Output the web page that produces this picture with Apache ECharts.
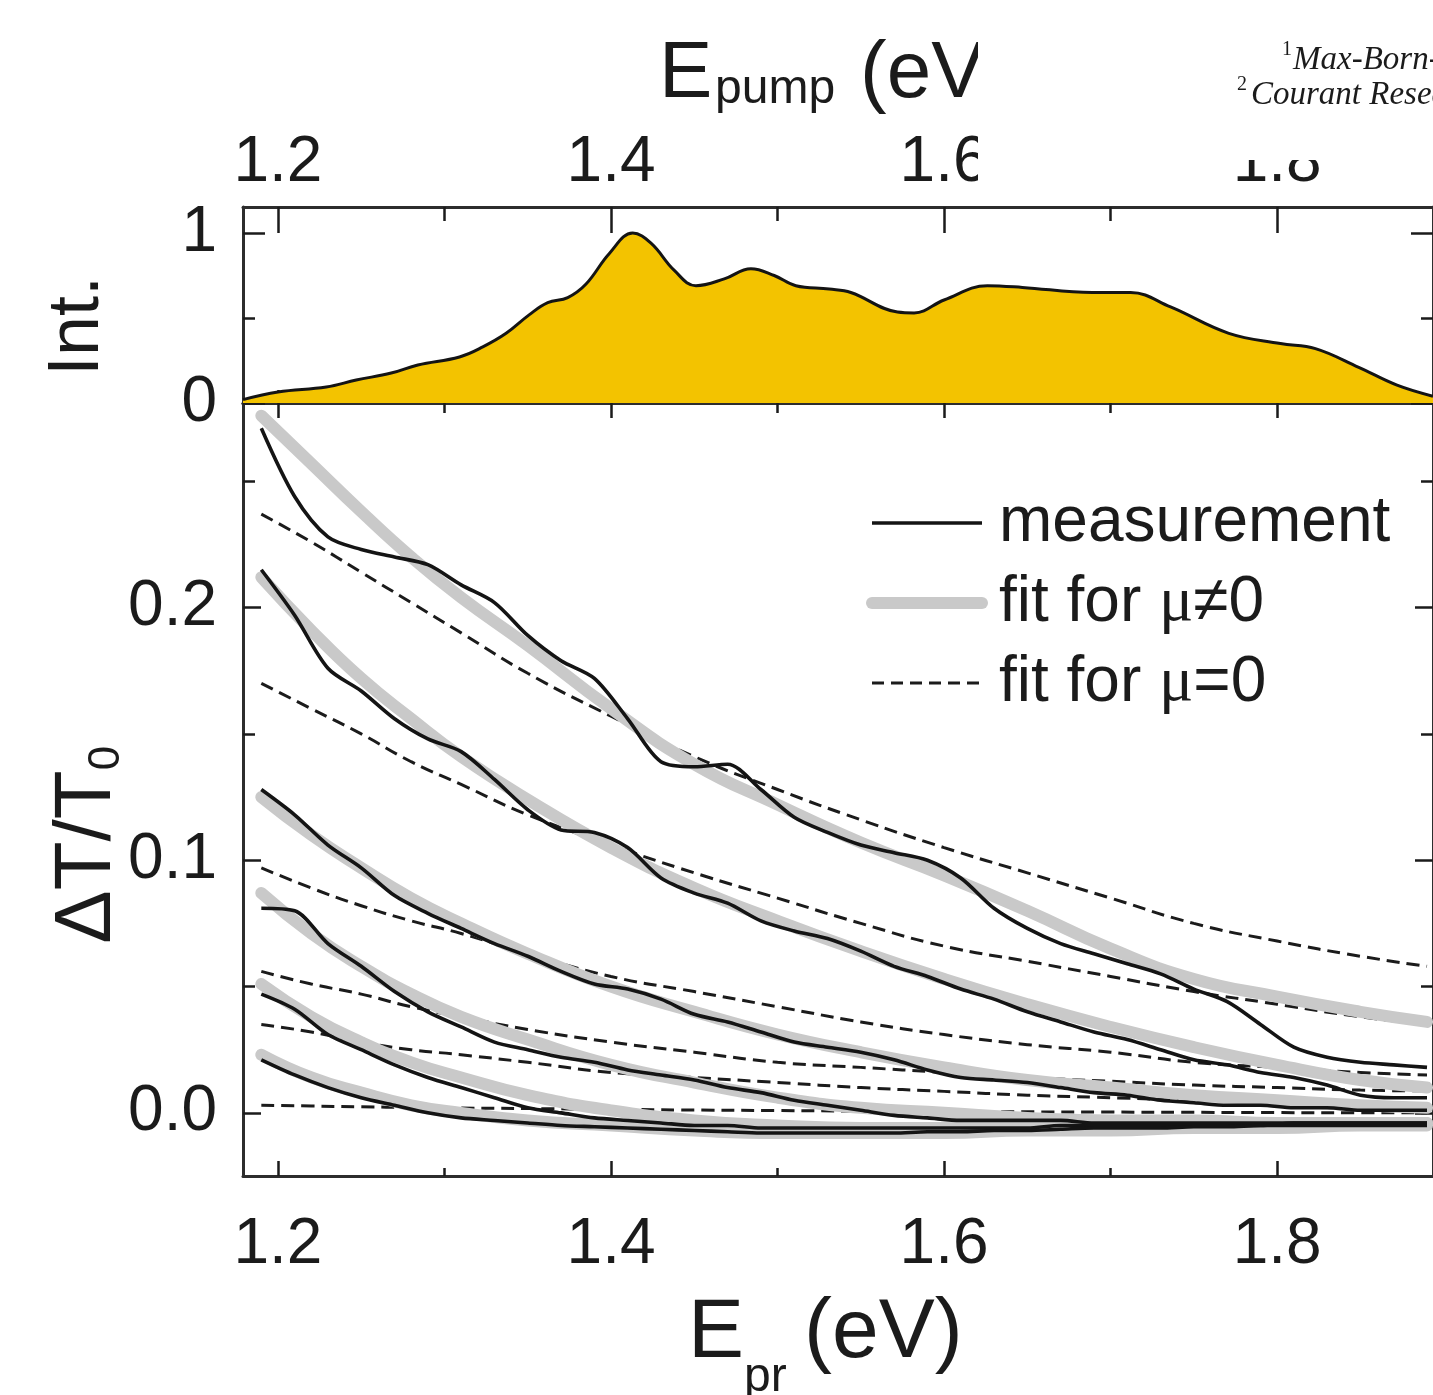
<!DOCTYPE html>
<html>
<head>
<meta charset="utf-8">
<script src="https://cdn.jsdelivr.net/npm/echarts@6/dist/echarts.min.js"></script>
<style>
  html, body { margin: 0; padding: 0; background: #ffffff; }
  #chart { width: 1433px; height: 1395px; }
</style>
</head>
<body>
<div id="chart"></div>
<script>
// ---- pump spectrum (top panel) ----
const pumpE = [1.179, 1.200, 1.229, 1.247, 1.268, 1.284, 1.309, 1.323, 1.337, 1.351, 1.362, 1.374, 1.385, 1.399,
  1.413, 1.424, 1.438, 1.451, 1.468, 1.484, 1.498, 1.511, 1.531, 1.544, 1.572, 1.582, 1.600, 1.626, 1.647,
  1.689, 1.712, 1.736, 1.771, 1.802, 1.823, 1.849, 1.872, 1.8936];
const pumpInt = [0.02, 0.065, 0.094, 0.135, 0.176, 0.224, 0.271, 0.33, 0.41, 0.52, 0.59, 0.62, 0.70, 0.88,
  1.0, 0.94, 0.78, 0.69, 0.73, 0.79, 0.75, 0.69, 0.67, 0.65, 0.535, 0.53, 0.606, 0.69, 0.68,
  0.65, 0.65, 0.565, 0.41, 0.35, 0.32, 0.21, 0.105, 0.04];

// ---- measured differential transmission (bottom panel) ----
const measE = [1.19, 1.21, 1.23, 1.25, 1.27, 1.29, 1.31, 1.33, 1.35, 1.37, 1.39, 1.41, 1.43, 1.45, 1.47, 1.49,
  1.51, 1.53, 1.55, 1.57, 1.59, 1.61, 1.63, 1.65, 1.67, 1.69, 1.71, 1.73, 1.75, 1.77, 1.79, 1.81, 1.83, 1.85, 1.87, 1.89];
const meas1 = [.271, .244, .228, .223, .220, .217, .209, .202, .189, .179, .172, .156, .139, .137, .138, .128,
  .117, .111, .106, .103, .100, .093, .081, .073, .067, .063, .059, .055, .049, .044, .035, .026, .022, .020, .019, .018];
const meas2 = [.215, .197, .176, .167, .156, .148, .143, .132, .120, .112, .111, .105, .093, .087, .083, .076,
  .072, .069, .064, .058, .054, .049, .045, .040, .036, .032, .029, .025, .021, .019, .016, .014, .011, .007, .006, .006];
const meas3 = [.128, .118, .106, .097, .086, .079, .073, .067, .062, .056, .051, .049, .045, .039, .036, .032,
  .028, .026, .024, .021, .017, .014, .013, .012, .010, .008, .007, .005, .004, .003, .003, .002, .002, .001, .001, .001];
const meas4 = [.081, .080, .067, .058, .048, .040, .034, .028, .025, .022, .020, .017, .015, .013, .010, .008,
  .005, .003, .001, -.001, -.002, -.003, -.003, -.003, -.003, -.004, -.004, -.004, -.004, -.004, -.004, -.004, -.004, -.004, -.004, -.004];
const meas5 = [.047, .041, .031, .025, .019, .014, .010, .006, .002, .000, -.002, -.003, -.004, -.005, -.005, -.006,
  -.006, -.006, -.006, -.006, -.006, -.006, -.006, -.006, -.005, -.005, -.005, -.005, -.005, -.005, -.005, -.004, -.004, -.004, -.004, -.004];
const meas6 = [.021, .015, .010, .006, .003, .000, -.002, -.003, -.004, -.005, -.0055, -.006, -.0065, -.007, -.0075, -.008,
  -.008, -.008, -.008, -.008, -.0075, -.0075, -.007, -.007, -.0065, -.006, -.006, -.006, -.0055, -.0055, -.005, -.005, -.005, -.005, -.005, -.005];

// ---- model fits ----
const fitE = [1.19, 1.22, 1.25, 1.28, 1.31, 1.35, 1.40, 1.45, 1.50, 1.55, 1.60, 1.65, 1.70, 1.75, 1.80, 1.85, 1.89];
const fitMu1 = [.276, .257, .238, .220, .204, .185, .160, .138, .122, .107, .094, .080, .065, .053, .046, .040, .036];
const fitMu2 = [.212, .191, .172, .156, .141, .124, .105, .089, .076, .064, .053, .043, .034, .026, .019, .013, .010];
const fitMu3 = [.125, .110, .097, .085, .075, .063, .050, .040, .031, .024, .018, .013, .010, .007, .005, .003, .002];
const fitMu4 = [.087, .071, .058, .047, .038, .029, .019, .012, .006, .002, .000, -.002, -.003, -.003, -.004, -.004, -.004];
const fitMu5 = [.051, .038, .028, .020, .014, .007, .001, -.003, -.005, -.006, -.006, -.006, -.005, -.005, -.005, -.004, -.004];
const fitMu6 = [.023, .014, .008, .003, .000, -.003, -.005, -.007, -.008, -.008, -.008, -.007, -.007, -.006, -.006, -.005, -.005];
const fitZero1 = [.237, .226, .214, .202, .190, .174, .157, .141, .128, .116, .105, .095, .085, .075, .068, .062, .058];
const fitZero2 = [.170, .160, .150, .139, .130, .118, .106, .095, .085, .075, .066, .060, .054, .048, .043, .038, .035];
const fitZero3 = [.097, .089, .082, .076, .071, .063, .054, .048, .042, .036, .031, .027, .024, .020, .018, .016, .015];
const fitZero4 = [.056, .051, .047, .042, .038, .033, .028, .024, .020, .018, .016, .014, .0125, .011, .010, .009, .0087];
const fitZero5 = [.035, .032, .028, .025, .023, .020, .016, .014, .012, .010, .0085, .007, .006, .005, .0045, .004, .0036];
const fitZero6 = [.003, .0027, .0024, .0021, .0019, .0017, .0014, .0011, .0009, .0007, .0005, .0004, .0003, .0002, .0001, .0, .0];

// ---- ticks and labels ----
const eTickMajor = [1.2, 1.4, 1.6, 1.8];
const eTickMinor = [1.3, 1.5, 1.7];
const eLabels = [1.2, 1.4, 1.6, 1.8];
const intTickMajor = [0, 1];
const intTickMinor = [0.5];
const intLabels = [0, 1];
const dtTickMajor = [0, 0.1, 0.2];
const dtTickMinor = [0.05, 0.15, 0.25];
const dtLabels = [0, 0.1, 0.2];

const NAME_MEAS = 'measurement';
const NAME_MU = 'fit for μ≠0';
const NAME_ZERO = 'fit for μ=0';

// ---- styling ----
const SANS = '"Liberation Sans", Arial, Helvetica, sans-serif';
const SERIF = '"Liberation Serif", "Times New Roman", serif';
const INK = '#1b1b1b';
const FRAME_COLOR = '#2d2d2d';
const E_MIN = 1.179, E_MAX = 1.8936;
const INT_MIN = 0, INT_MAX = 1.153;
const DT_MIN = -0.025, DT_MAX = 0.281;

function tickStyle(vals, len) {
  return { show: true, inside: true, length: len, customValues: vals, lineStyle: { color: INK, width: 2.5 } };
}
function frameLine(show) {
  return { show: show, onZero: false, lineStyle: { color: FRAME_COLOR, width: 3 } };
}
function makeX(grid, pos, vals, len, withLine, label) {
  return {
    type: 'value', gridIndex: grid, position: pos, min: E_MIN, max: E_MAX,
    splitLine: { show: false },
    axisLine: frameLine(withLine),
    axisTick: tickStyle(vals, len),
    axisLabel: label || { show: false }
  };
}
function makeY(grid, pos, min, max, vals, len, withLine, label) {
  return {
    type: 'value', gridIndex: grid, position: pos, min: min, max: max,
    splitLine: { show: false },
    axisLine: frameLine(withLine),
    axisTick: tickStyle(vals, len),
    axisLabel: label || { show: false }
  };
}
const tickFont = { fontFamily: SANS, fontSize: 64, color: INK };

const xAxes = [
  // top panel: pump energy scale on top edge
  makeX(0, 'top', eTickMajor, 26, true, Object.assign({ show: true, customValues: eLabels, margin: 12, formatter: v => v.toFixed(1) }, tickFont)),
  makeX(0, 'top', eTickMinor, 14, false),
  makeX(0, 'bottom', eTickMajor, 13, true),
  makeX(0, 'bottom', eTickMinor, 8, false),
  // bottom panel: probe energy scale
  makeX(1, 'bottom', eTickMajor, 15, true, Object.assign({ show: true, customValues: eLabels, margin: 37, formatter: v => v.toFixed(1) }, tickFont)),
  makeX(1, 'bottom', eTickMinor, 8, false),
  makeX(1, 'top', eTickMajor, 15, true),
  makeX(1, 'top', eTickMinor, 10, false)
];
const yAxes = [
  makeY(0, 'left', INT_MIN, INT_MAX, intTickMajor, 22, true, Object.assign({ show: true, customValues: intLabels, margin: 26, formatter: v => String(v) }, tickFont)),
  makeY(0, 'left', INT_MIN, INT_MAX, intTickMinor, 12, false),
  makeY(0, 'right', INT_MIN, INT_MAX, intTickMajor, 22, true),
  makeY(0, 'right', INT_MIN, INT_MAX, intTickMinor, 12, false),
  makeY(1, 'left', DT_MIN, DT_MAX, dtTickMajor, 18, true, Object.assign({ show: true, customValues: dtLabels, margin: 26, formatter: v => v.toFixed(1) }, tickFont)),
  makeY(1, 'left', DT_MIN, DT_MAX, dtTickMinor, 12, false),
  makeY(1, 'right', DT_MIN, DT_MAX, dtTickMajor, 18, true),
  makeY(1, 'right', DT_MIN, DT_MAX, dtTickMinor, 12, false)
];

function pairs(xs, ys) { return xs.map((x, i) => [x, ys[i]]); }

const MEAS_STYLE = { color: '#141414', width: 3.6 };
const MU_STYLE = { color: '#c9c9c9', width: 12, cap: 'round' };
const ZERO_STYLE = { color: INK, width: 3, type: [13, 7] };

const series = [];
series.push({
  type: 'line', name: 'pump', xAxisIndex: 0, yAxisIndex: 0,
  data: pairs(pumpE, pumpInt), smooth: 0.4, symbol: 'none',
  lineStyle: { color: '#141414', width: 3 },
  areaStyle: { color: '#F3C300', opacity: 1 },
  silent: true
});
[fitZero1, fitZero2, fitZero3, fitZero4, fitZero5, fitZero6].forEach(ys => series.push({
  type: 'line', name: NAME_ZERO, xAxisIndex: 4, yAxisIndex: 4,
  data: pairs(fitE, ys), smooth: 0.5, symbol: 'none', silent: true, lineStyle: ZERO_STYLE
}));
[fitMu1, fitMu2, fitMu3, fitMu4, fitMu5, fitMu6].forEach(ys => series.push({
  type: 'line', name: NAME_MU, xAxisIndex: 4, yAxisIndex: 4,
  data: pairs(fitE, ys), smooth: 0.5, symbol: 'none', silent: true, lineStyle: MU_STYLE
}));
[meas1, meas2, meas3, meas4, meas5, meas6].forEach(ys => series.push({
  type: 'line', name: NAME_MEAS, xAxisIndex: 4, yAxisIndex: 4,
  data: pairs(measE, ys), smooth: 0.3, symbol: 'none', silent: true, lineStyle: MEAS_STYLE
}));

function txt(x, y, text, font, extra) {
  return Object.assign({
    type: 'text', x: x, y: y, z: 120, silent: true,
    style: { text: text, font: font, fill: INK, align: 'left', verticalAlign: 'middle' }
  }, extra || {});
}
function vtxt(x, y, text, font) {
  return {
    type: 'text', x: x, y: y, z: 120, silent: true, rotation: Math.PI / 2,
    style: { text: text, font: font, fill: INK, align: 'center', verticalAlign: 'middle' }
  };
}

const option = {
  animation: false,
  backgroundColor: '#ffffff',
  grid: [
    { left: 243, top: 207, width: 1191, height: 196, containLabel: false },
    { left: 243, top: 403, width: 1191, height: 773, containLabel: false }
  ],
  xAxis: xAxes,
  yAxis: yAxes,
  legend: {
    orient: 'vertical', left: 861, top: 486,
    itemWidth: 110, itemHeight: 14, itemGap: 16,
    selectedMode: false,
    textStyle: {
      fontFamily: SANS, fontSize: 64, color: INK, lineHeight: 64, padding: [0, 0, 0, 12],
      rich: { mu: { fontFamily: SERIF, fontSize: 64, color: INK, lineHeight: 64 } }
    },
    formatter: n => n.replace('μ', '{mu|μ}'),
    data: [
      { name: NAME_MEAS, itemStyle: { opacity: 0 }, lineStyle: Object.assign({ type: 'solid' }, MEAS_STYLE) },
      { name: NAME_MU, itemStyle: { opacity: 0 }, lineStyle: Object.assign({ type: 'solid' }, MU_STYLE) },
      { name: NAME_ZERO, itemStyle: { opacity: 0 }, lineStyle: { color: INK, width: 3, type: [12, 7] } }
    ]
  },
  series: series,
  graphic: [
    // axis titles
    txt(659, 75, 'E', `80px ${SANS}`),
    txt(715, 90, 'pump', `48px ${SANS}`),
    txt(860, 75, '(eV)', `80px ${SANS}`),
    txt(688, 1334, 'E', `84px ${SANS}`),
    txt(744, 1378, 'pr', `48px ${SANS}`),
    txt(804, 1334, '(eV)', `84px ${SANS}`),
    vtxt(78, 326, 'Int.', `72px ${SANS}`),
    vtxt(88, 857, 'ΔT/T', `80px ${SANS}`),
    vtxt(107, 758, '0', `44px ${SANS}`),
    // affiliation block in the upper right corner
    { type: 'rect', z: 150, silent: true, shape: { x: 978, y: 0, width: 455, height: 160 }, style: { fill: '#ffffff' } },
    { type: 'rect', z: 150, silent: true, shape: { x: 978, y: 0, width: 247, height: 195 }, style: { fill: '#ffffff' } },
    Object.assign(txt(1282, 50, '1', `20px ${SERIF}`), { z: 160 }),
    Object.assign(txt(1293, 60, 'Max-Born-Institut', `italic 33px ${SERIF}`), { z: 160 }),
    Object.assign(txt(1237, 85, '2', `20px ${SERIF}`), { z: 160 }),
    Object.assign(txt(1251, 95, 'Courant Research Centre', `italic 33px ${SERIF}`), { z: 160 })
  ]
};

const chart = echarts.init(document.getElementById('chart'), null, { renderer: 'canvas' });
chart.setOption(option);
</script>
</body>
</html>
